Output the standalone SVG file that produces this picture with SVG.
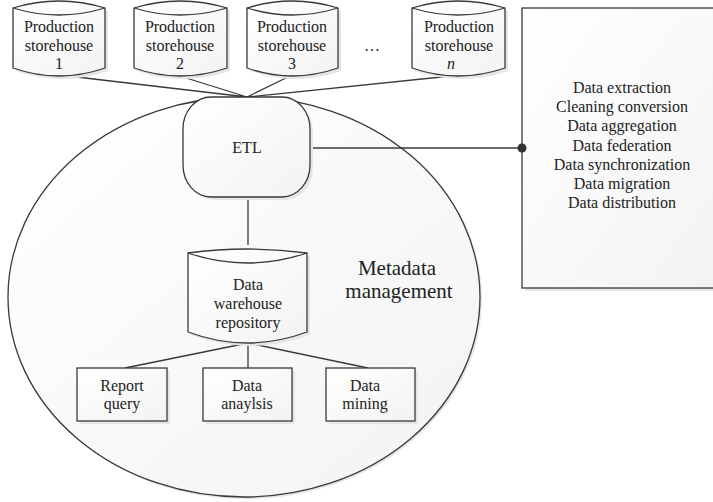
<svg xmlns="http://www.w3.org/2000/svg" width="713" height="502" viewBox="0 0 713 502">
<defs>
<linearGradient id="g" x1="0" y1="0" x2="1" y2="1">
<stop offset="0" stop-color="#ffffff"/>
<stop offset="1" stop-color="#f3f3f3"/>
</linearGradient>
<style>
.s{fill:url(#g);stroke:#3a3a3a;stroke-width:1.3}
.sh{fill:#e6e6e6;stroke:none}
.ln{fill:none;stroke:#3a3a3a;stroke-width:1.3}
text{font-family:"Liberation Serif","Times New Roman",serif;font-size:16px;fill:#222;text-anchor:middle}
.big{font-size:21px}
</style>
</defs>
<rect width="713" height="502" fill="#ffffff"/>

<g id="metadata">
<ellipse class="sh" cx="246" cy="299" rx="236" ry="200"/>
<ellipse class="s" cx="244" cy="297" rx="236" ry="200"/>
<text class="big" x="397" y="275">Metadata</text>
<text class="big" x="399" y="298">management</text>
</g>

<g id="functions">
<rect class="sh" x="525" y="11" width="200" height="280"/>
<rect class="s" x="522" y="8" width="200" height="280"/>
<text x="622" y="93">Data extraction</text>
<text x="622" y="112">Cleaning conversion</text>
<text x="622" y="131">Data aggregation</text>
<text x="622" y="151">Data federation</text>
<text x="622" y="170">Data synchronization</text>
<text x="622" y="189">Data migration</text>
<text x="622" y="208">Data distribution</text>
</g>

<g id="connectors">
<path class="ln" d="M68,76 L247,97 M183,77 L247,97 M290,76 L247,97 M451,76 L247,97"/>
<path class="ln" d="M310,148 L522,148"/>
<circle cx="522" cy="148" r="4.5" fill="#333"/>
<path class="ln" d="M248,197 L248,245"/>
<path class="ln" d="M248,343 L125,368 M248,343 L248,368 M248,343 L368,368"/>
</g>

<g id="ps1">
<path class="sh" d="M16,11 Q62,-3 108,11 L108,71 Q62,87 16,71 Z"/>
<path class="s" d="M13,8 Q59,-6 105,8 L105,68 Q59,84 13,68 Z"/>
<path class="ln" d="M13,8 Q59,22 105,8"/>
<text x="59" y="32">Production</text>
<text x="59" y="51">storehouse</text>
<text x="59" y="69">1</text>
</g>

<g id="ps2">
<path class="sh" d="M137,11 Q183,-3 230,11 L230,71 Q183,87 137,71 Z"/>
<path class="s" d="M134,8 Q180,-6 227,8 L227,68 Q180,84 134,68 Z"/>
<path class="ln" d="M134,8 Q180,22 227,8"/>
<text x="180" y="32">Production</text>
<text x="180" y="51">storehouse</text>
<text x="180" y="69">2</text>
</g>

<g id="ps3">
<path class="sh" d="M250,11 Q295,-3 341,11 L341,71 Q295,87 250,71 Z"/>
<path class="s" d="M247,8 Q292,-6 338,8 L338,68 Q292,84 247,68 Z"/>
<path class="ln" d="M247,8 Q292,22 338,8"/>
<text x="292" y="32">Production</text>
<text x="292" y="51">storehouse</text>
<text x="292" y="69">3</text>
</g>

<text x="372" y="51">…</text>

<g id="psn">
<path class="sh" d="M415,11 Q461,-3 508,11 L508,71 Q461,87 415,71 Z"/>
<path class="s" d="M412,8 Q458,-6 505,8 L505,68 Q458,84 412,68 Z"/>
<path class="ln" d="M412,8 Q458,22 505,8"/>
<text x="459" y="32">Production</text>
<text x="459" y="51">storehouse</text>
<text x="451" y="69" font-style="italic">n</text>
</g>

<g id="etl">
<rect class="sh" x="186" y="100" width="127" height="100" rx="28" ry="32"/>
<rect class="s" x="183" y="97" width="127" height="100" rx="28" ry="32"/>
<text x="247" y="153">ETL</text>
</g>

<g id="dw">
<path class="sh" d="M191,256 Q250,248 310,256 L310,335 Q250,357 191,335 Z"/>
<path class="s" d="M188,253 Q247,245 307,253 L307,332 Q247,354 188,332 Z"/>
<path class="ln" d="M188,253 Q247,273 307,253"/>
<text x="248" y="290">Data</text>
<text x="248" y="309">warehouse</text>
<text x="248" y="328">repository</text>
</g>

<g id="report">
<rect class="sh" x="80" y="371" width="90" height="53"/>
<rect class="s" x="77" y="368" width="90" height="53"/>
<text x="122" y="391">Report</text>
<text x="122" y="409">query</text>
</g>

<g id="analysis">
<rect class="sh" x="206" y="371" width="89" height="53"/>
<rect class="s" x="203" y="368" width="89" height="53"/>
<text x="247" y="391">Data</text>
<text x="247" y="409">anaylsis</text>
</g>

<g id="mining">
<rect class="sh" x="329" y="371" width="89" height="53"/>
<rect class="s" x="326" y="368" width="89" height="53"/>
<text x="365" y="391">Data</text>
<text x="365" y="409">mining</text>
</g>
</svg>
